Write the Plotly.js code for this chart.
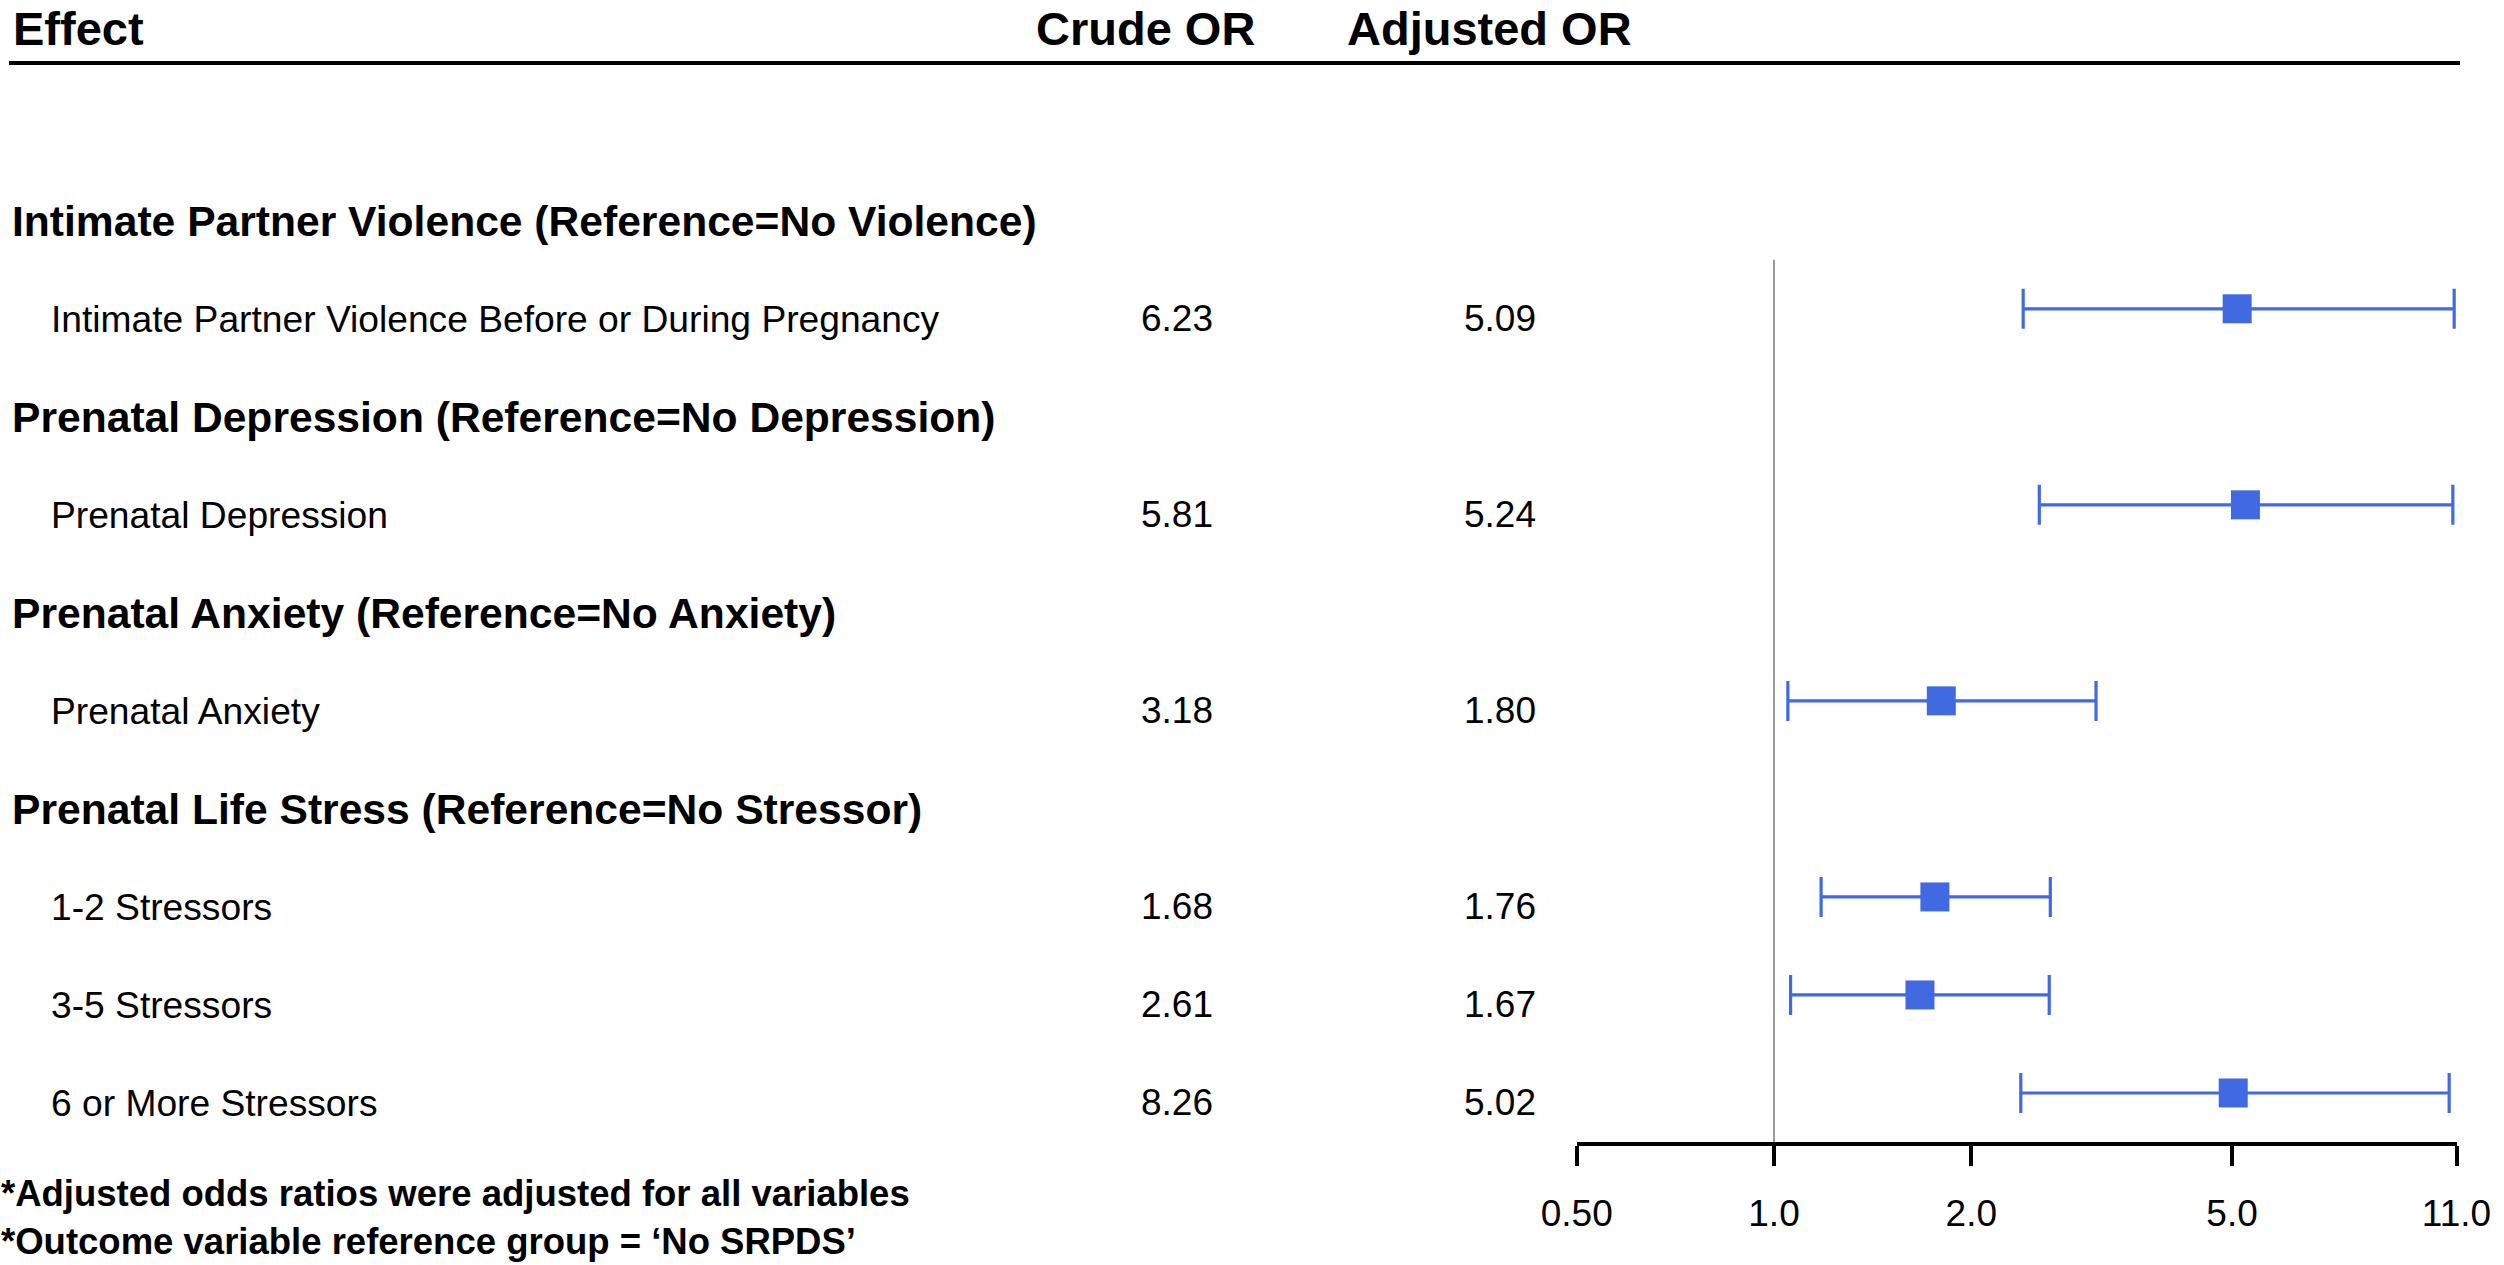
<!DOCTYPE html>
<html>
<head>
<meta charset="utf-8">
<script src="https://cdn.plot.ly/plotly-3.0.1.min.js"></script>
<style>
  html, body { margin: 0; padding: 0; background: #ffffff; }
  #chart { width: 2504px; height: 1265px; }
</style>
</head>
<body>
<div id="chart"></div>
<script>
// ---- data ----
const sections = [
  "Intimate Partner Violence (Reference=No Violence)",
  "Prenatal Depression (Reference=No Depression)",
  "Prenatal Anxiety (Reference=No Anxiety)",
  "Prenatal Life Stress (Reference=No Stressor)"
];
const rowLabels = [
  "Intimate Partner Violence Before or During Pregnancy",
  "Prenatal Depression",
  "Prenatal Anxiety",
  "1-2 Stressors",
  "3-5 Stressors",
  "6 or More Stressors"
];
const rowSection = [0, 1, 2, 3, 3, 3];
const crudeOR    = [6.23, 5.81, 3.18, 1.68, 2.61, 8.26];
const adjustedOR = [5.09, 5.24, 1.80, 1.76, 1.67, 5.02];
const ciLower    = [2.40, 2.54, 1.05, 1.18, 1.06, 2.38];
const ciUpper    = [10.91, 10.86, 3.10, 2.64, 2.63, 10.72];
const tickVals   = [0.5, 1, 2, 5, 11];
const tickText   = ["0.50", "1.0", "2.0", "5.0", "11.0"];
const headers    = ["Effect", "Crude OR", "Adjusted OR"];
const footnotes  = [
  "*Adjusted odds ratios were adjusted for all variables",
  "*Outcome variable reference group = \u2018No SRPDS\u2019"
];

// ---- build row slots (section header, then its rows) ----
const slots = [];
sections.forEach((s, si) => {
  slots.push({type: "section", text: s});
  rowLabels.forEach((r, ri) => {
    if (rowSection[ri] === si) slots.push({type: "row", idx: ri});
  });
});
const rowY = [];
slots.forEach((s, k) => { if (s.type === "row") rowY[s.idx] = k; });

const W = 2504, H = 1265;
const FONT = "Liberation Sans, Arial, Helvetica, sans-serif";
const BLUE = "#4169E1";
const plotBottomMargin = 123;
const plotH = H - plotBottomMargin;
const px = v => v / W;
const py = p => 1 - p / plotH;

const trace = {
  type: "scatter",
  mode: "markers",
  x: adjustedOR,
  y: rowY,
  marker: {symbol: "square", size: 29, color: BLUE},
  error_x: {
    type: "data",
    symmetric: false,
    array: adjustedOR.map((v, i) => ciUpper[i] - v),
    arrayminus: adjustedOR.map((v, i) => v - ciLower[i]),
    color: BLUE,
    thickness: 3.2,
    width: 20
  },
  hoverinfo: "skip",
  showlegend: false,
  cliponaxis: false
};

const annotations = [];
// column headers
annotations.push({xref: "paper", yref: "paper", x: px(11), y: py(28), xanchor: "left", yanchor: "middle",
  text: "<b>" + headers[0] + "</b>", showarrow: false, font: {family: FONT, size: 47, color: "#000"}});
annotations.push({xref: "paper", yref: "paper", x: px(1145), y: py(28), xanchor: "center", yanchor: "middle",
  text: "<b>" + headers[1] + "</b>", showarrow: false, font: {family: FONT, size: 47, color: "#000"}});
annotations.push({xref: "paper", yref: "paper", x: px(1489), y: py(28), xanchor: "center", yanchor: "middle",
  text: "<b>" + headers[2] + "</b>", showarrow: false, font: {family: FONT, size: 47, color: "#000"}});

slots.forEach((s, k) => {
  if (s.type === "section") {
    annotations.push({xref: "paper", yref: "y", x: px(10), y: k, yshift: -10, xanchor: "left", yanchor: "middle",
      text: "<b>" + s.text + "</b>", showarrow: false, font: {family: FONT, size: 42.6, color: "#000"}});
  } else {
    const i = s.idx;
    annotations.push({xref: "paper", yref: "y", x: px(49), y: k, yshift: -10, xanchor: "left", yanchor: "middle",
      text: rowLabels[i], showarrow: false, font: {family: FONT, size: 37.2, color: "#000"}});
    annotations.push({xref: "paper", yref: "y", x: px(1177), y: k, yshift: -10, xanchor: "center", yanchor: "middle",
      text: crudeOR[i].toFixed(2), showarrow: false, font: {family: FONT, size: 37, color: "#000"}});
    annotations.push({xref: "paper", yref: "y", x: px(1500), y: k, yshift: -10, xanchor: "center", yanchor: "middle",
      text: adjustedOR[i].toFixed(2), showarrow: false, font: {family: FONT, size: 37, color: "#000"}});
  }
});

annotations.push({xref: "paper", yref: "paper", x: 0, y: py(1193), xanchor: "left", yanchor: "middle",
  text: "<b>" + footnotes[0] + "</b>", showarrow: false, borderpad: 0, font: {family: FONT, size: 36.5, color: "#000"}});
annotations.push({xref: "paper", yref: "paper", x: 0, y: py(1241), xanchor: "left", yanchor: "middle",
  text: "<b>" + footnotes[1] + "</b>", showarrow: false, borderpad: 0, font: {family: FONT, size: 36.5, color: "#000"}});

const shapes = [
  // header rule
  {type: "line", xref: "paper", yref: "paper", x0: px(9), x1: px(2460), y0: py(63), y1: py(63),
   line: {color: "#000", width: 4}},
  // reference line at OR = 1
  {type: "line", xref: "x", yref: "y", x0: 1, x1: 1, y0: 0.5, y1: 9.5,
   line: {color: "#9a9a9a", width: 2}, layer: "below"}
];

const layout = {
  width: W, height: H,
  margin: {l: 0, r: 0, t: 0, b: plotBottomMargin, pad: 0},
  paper_bgcolor: "#fff", plot_bgcolor: "#fff",
  showlegend: false,
  xaxis: {
    type: "log",
    domain: [1576.7 / W, 2456.5 / W],
    range: [Math.log10(0.5), Math.log10(11)],
    tickvals: tickVals, ticktext: tickText,
    showline: true, linecolor: "#000", linewidth: 4,
    ticks: "outside", ticklen: 20, tickwidth: 4, tickcolor: "#000",
    ticklabelstandoff: 16,
    tickfont: {family: FONT, size: 37, color: "#000"},
    showgrid: false, zeroline: false, fixedrange: true
  },
  yaxis: {
    range: [9.5, -2.15],
    visible: false, showgrid: false, zeroline: false, fixedrange: true
  },
  annotations: annotations,
  shapes: shapes
};

Plotly.newPlot("chart", [trace], layout, {displayModeBar: false, staticPlot: true});
</script>
</body>
</html>
